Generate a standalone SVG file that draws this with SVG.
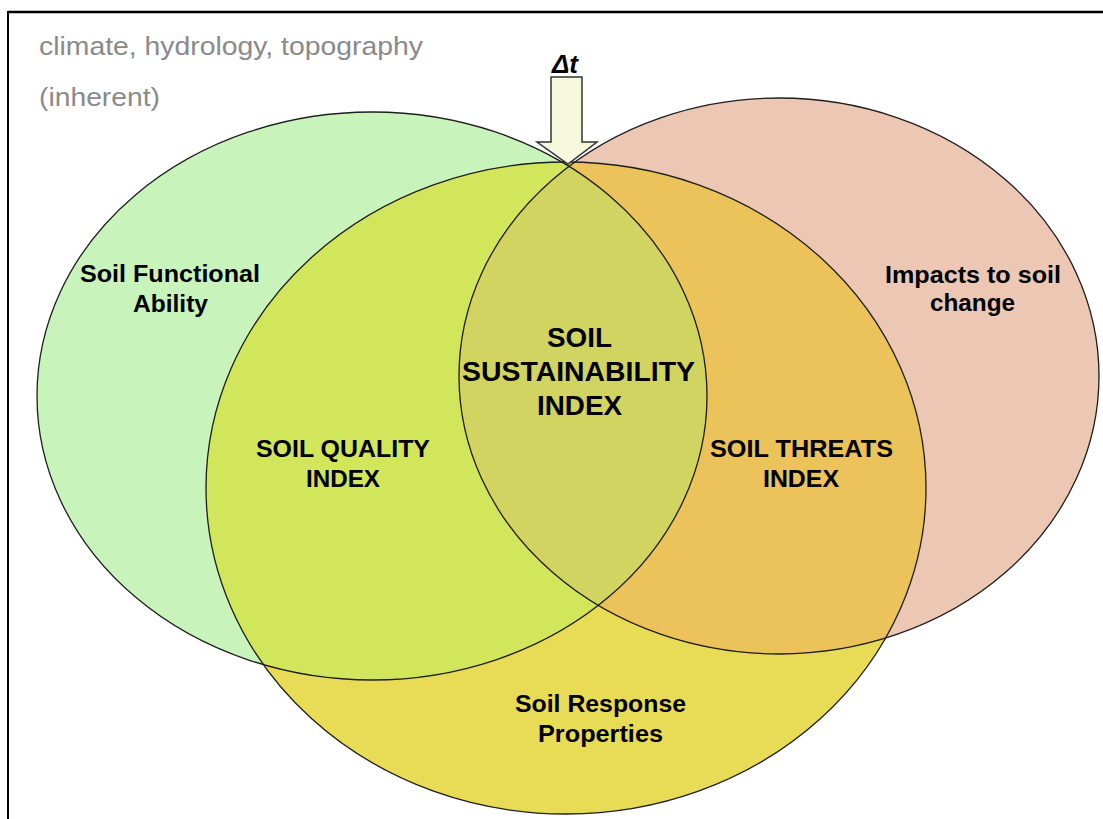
<svg xmlns="http://www.w3.org/2000/svg" width="1103" height="819" viewBox="0 0 1103 819">
<style>
.lbl{font-family:"Liberation Sans",Arial,sans-serif;font-weight:bold;font-size:23px;fill:#000;text-anchor:middle}
.big{font-size:27px}
.note{font-family:"Liberation Sans",Arial,sans-serif;font-size:25px;fill:#8a8a8a}
.outline{fill:none;stroke:#1e1e1e;stroke-width:1.3}
</style>
<defs>
<clipPath id="clipGreen"><ellipse cx="372" cy="396" rx="335" ry="284"/></clipPath>
<clipPath id="clipPink"><ellipse cx="779" cy="376" rx="320" ry="278"/></clipPath>
</defs>
<rect x="0" y="0" width="1103" height="819" fill="#fff"/>
<g id="frame">
<line x1="8" y1="12" x2="1103" y2="12" stroke="#000" stroke-width="2.5"/>
<line x1="8" y1="11" x2="8" y2="819" stroke="#000" stroke-width="2"/>
</g>
<g id="node-functional">
<ellipse cx="372" cy="396" rx="335" ry="284" fill="#c8f4bc"/>
</g>
<g id="node-impacts">
<ellipse cx="779" cy="376" rx="320" ry="278" fill="#ecc8b4"/>
</g>
<g id="node-response">
<ellipse cx="566" cy="488" rx="360" ry="326" fill="#e8dc56"/>
</g>
<g id="node-quality">
<ellipse cx="566" cy="488" rx="360" ry="326" fill="#d2e65c" clip-path="url(#clipGreen)"/>
</g>
<g id="node-threats">
<ellipse cx="566" cy="488" rx="360" ry="326" fill="#ecc25a" clip-path="url(#clipPink)"/>
</g>
<g id="node-sustainability">
<g clip-path="url(#clipGreen)"><ellipse cx="779" cy="376" rx="320" ry="278" fill="#d2d462"/></g>
</g>
<g id="connectors">
<ellipse class="outline" cx="372" cy="396" rx="335" ry="284"/>
<ellipse class="outline" cx="779" cy="376" rx="320" ry="278"/>
<ellipse class="outline" cx="566" cy="488" rx="360" ry="326"/>
<path d="M551,77 H582 V142 H597 L568,164 L537,142 H551 Z" fill="#f6f9dc" stroke="#333" stroke-width="1.5"/>
</g>
<g id="labels">
<text class="note" x="39" y="55" textLength="384" lengthAdjust="spacingAndGlyphs">climate, hydrology, topography</text>
<text class="note" x="39" y="106" textLength="121" lengthAdjust="spacingAndGlyphs">(inherent)</text>
<text x="552" y="73" font-family="Liberation Sans,Arial,sans-serif" font-weight="bold" font-style="italic" font-size="25" textLength="26" lengthAdjust="spacingAndGlyphs">Δt</text>
<text class="lbl" x="170" y="282" textLength="180" lengthAdjust="spacingAndGlyphs">Soil Functional</text>
<text class="lbl" x="170.5" y="312" textLength="75" lengthAdjust="spacingAndGlyphs">Ability</text>
<text class="lbl" x="343" y="457" textLength="174" lengthAdjust="spacingAndGlyphs">SOIL QUALITY</text>
<text class="lbl" x="343" y="487" textLength="74" lengthAdjust="spacingAndGlyphs">INDEX</text>
<text class="lbl big" x="579.5" y="347" textLength="65" lengthAdjust="spacingAndGlyphs">SOIL</text>
<text class="lbl big" x="578.5" y="381" textLength="233" lengthAdjust="spacingAndGlyphs">SUSTAINABILITY</text>
<text class="lbl big" x="579.5" y="415" textLength="85" lengthAdjust="spacingAndGlyphs">INDEX</text>
<text class="lbl" x="801.5" y="457" textLength="183" lengthAdjust="spacingAndGlyphs">SOIL THREATS</text>
<text class="lbl" x="801" y="487" textLength="76" lengthAdjust="spacingAndGlyphs">INDEX</text>
<text class="lbl" x="973" y="283" textLength="176" lengthAdjust="spacingAndGlyphs">Impacts to soil</text>
<text class="lbl" x="972.5" y="311" textLength="85" lengthAdjust="spacingAndGlyphs">change</text>
<text class="lbl" x="600.5" y="712" textLength="171" lengthAdjust="spacingAndGlyphs">Soil Response</text>
<text class="lbl" x="600.5" y="742" textLength="125" lengthAdjust="spacingAndGlyphs">Properties</text>
</g>
</svg>
